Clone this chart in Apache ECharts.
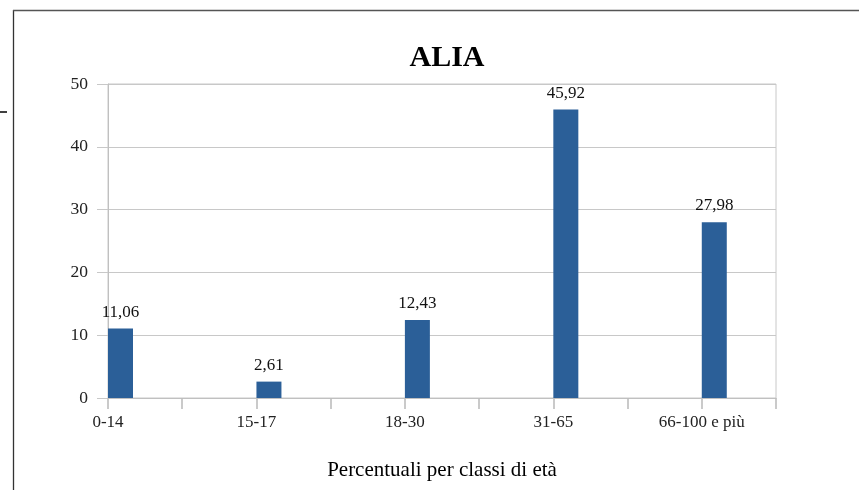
<!DOCTYPE html>
<html>
<head>
<meta charset="utf-8">
<script src="https://cdn.jsdelivr.net/npm/echarts@6/dist/echarts.min.js"></script>
<style>html,body{margin:0;padding:0;background:#fff}#c{width:859px;height:490px}</style>
</head>
<body>
<div id="c"></div>
<script>
const categories = ["0-14", "15-17", "18-30", "31-65", "66-100 e più"];
const values = [11.06, 2.61, 12.43, 45.92, 27.98];
const yTicks = [0, 10, 20, 30, 40, 50];
const titleText = "ALIA";
const xAxisName = "Percentuali per classi di età";

// 10-slot axis: categories on even slots, blanks between (as in the original layout)
const slots = [];
const slotValues = [];
categories.forEach((c, i) => {
  slots.push(c); slotValues.push(values[i]);
  slots.push(" "); slotValues.push(null);
});
const blanks = slots.map(() => null);

const serif = "Liberation Serif";
const chart = echarts.init(document.getElementById('c'), null, {renderer: 'canvas'});
chart.setOption({
  backgroundColor: '#fff',
  animation: false,
  title: {
    text: titleText, left: 442, top: 38, textAlign: 'center',
    textStyle: {fontFamily: serif, fontWeight: 'bold', fontSize: 30, color: '#000'}
  },
  graphic: [
    {type: 'line', shape: {x1: 13.5, y1: 10, x2: 13.5, y2: 490}, style: {stroke: '#333', lineWidth: 1.3}},
    {type: 'line', shape: {x1: 13, y1: 10.5, x2: 859, y2: 10.5}, style: {stroke: '#555', lineWidth: 1.5}},
    {type: 'line', shape: {x1: 0, y1: 112, x2: 7, y2: 112}, style: {stroke: '#000', lineWidth: 1.5}}
  ],
  grid: {left: 108, right: 83, top: 84, bottom: 92, show: true, borderColor: '#c8c8c8', borderWidth: 1},
  xAxis: [{
    type: 'category', data: slots, boundaryGap: false,
    axisLine: {lineStyle: {color: '#c0c0c0', width: 1}},
    axisTick: {show: false},
    axisLabel: {interval: 0, margin: 16, fontFamily: serif, fontSize: 17, color: '#222'},
    name: xAxisName, nameLocation: 'middle', nameGap: 62,
    nameTextStyle: {fontFamily: serif, fontSize: 21, color: '#000'}
  }, {
    type: 'value', position: 'bottom', min: 0, max: slots.length - 1, interval: 1,
    axisLine: {show: false}, axisLabel: {show: false}, splitLine: {show: false},
    axisTick: {show: true, length: 11, lineStyle: {color: '#bdbdbd', width: 1.6}}
  }],
  yAxis: {
    type: 'value', min: yTicks[0], max: yTicks[yTicks.length - 1], interval: 10,
    axisLine: {show: true, lineStyle: {color: '#c0c0c0'}},
    axisTick: {show: true, length: 11, lineStyle: {color: '#c8c8c8'}},
    splitLine: {lineStyle: {color: '#c8c8c8'}},
    axisLabel: {margin: 20, fontFamily: serif, fontSize: 17.5, color: '#222'}
  },
  series: [
    {type: 'bar', data: blanks, barWidth: 25, barGap: '0%'},
    {
      type: 'bar', data: slotValues, barWidth: 25, barGap: '0%',
      itemStyle: {color: '#2B5F98'},
      label: {
        show: true, position: 'top', distance: 8,
        fontFamily: serif, fontSize: 17, color: '#111',
        formatter: p => p.value == null ? '' : p.value.toFixed(2).replace('.', ',')
      }
    }
  ]
});
</script>
</body>
</html>
